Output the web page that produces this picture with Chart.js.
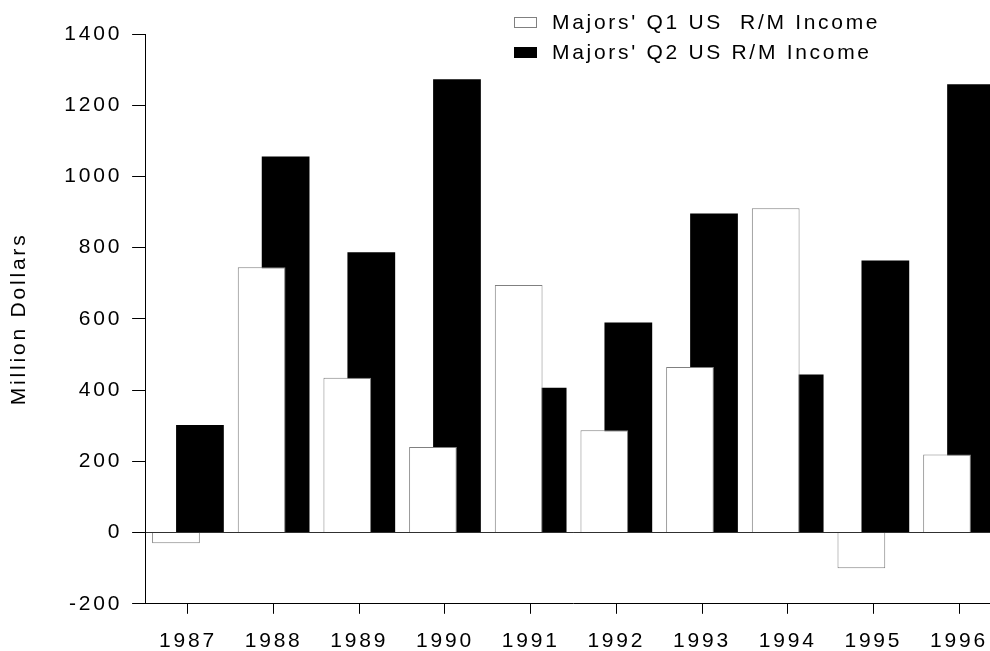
<!DOCTYPE html>
<html>
<head>
<meta charset="utf-8">
<script src="https://cdn.jsdelivr.net/npm/chart.js@4.4.0/dist/chart.umd.min.js"></script>
<style>
    html, body {
        margin: 0;
        padding: 0;
        background: #fff;
        overflow: hidden;
    }
    #wrap {
        position: absolute;
        left: 0;
        top: 0;
        width: 1003px;
        height: 651px;
    }
    #legend {
        position: absolute;
        left: 514px;
        top: 7px;
        font-family: "Liberation Sans", Arial, sans-serif;
        font-size: 21px;
        letter-spacing: 2.7px;
        color: #000;
    }
    .row {
        display: flex;
        align-items: center;
        height: 30px;
        white-space: pre;
    }
    .swatch {
        width: 23px;
        height: 11px;
        box-sizing: border-box;
        margin-right: 15px;
    }
</style>
</head>
<body>
<div id="wrap"><canvas id="incomeChart"></canvas></div>
<div id="legend"></div>
<script>
const years = ['1987', '1988', '1989', '1990', '1991', '1992', '1993', '1994', '1995', '1996'];
const q1Income = [-30, 745, 435, 240, 695, 287, 465, 911, -100, 219];
const q2Income = [302, 1056, 787, 1273, 407, 590, 896, 444, 764, 1259];
const seriesLabels = ["Majors' Q1 US  R/M Income", "Majors' Q2 US R/M Income"];
const yTicks = [-200, 0, 200, 400, 600, 800, 1000, 1200, 1400];

const fontFamily = '"Liberation Sans", Arial, sans-serif';
const spacing = '2.8px';

// canvas text in the original is letter spaced
const letterSpacing = {
    id: 'letterSpacing',
    beforeUpdate(chart) { chart.ctx.letterSpacing = spacing; },
    beforeDraw(chart) { chart.ctx.letterSpacing = spacing; }
};

// legend sits above the plot, overlapping the chart area's top band
const legendEl = document.getElementById('legend');
const swatchStyles = [
    'background:#fff;border:1px solid #808080;',
    'background:#000;'
];
seriesLabels.forEach((label, i) => {
    const row = document.createElement('div');
    row.className = 'row';
    const sw = document.createElement('span');
    sw.className = 'swatch';
    sw.style.cssText = swatchStyles[i];
    const txt = document.createElement('span');
    txt.textContent = label;
    row.appendChild(sw);
    row.appendChild(txt);
    legendEl.appendChild(row);
});

new Chart(
    document.getElementById('incomeChart'),
    {
        type: 'bar',
        data: {
            labels: years,
            datasets: [{
                label: seriesLabels[0],
                data: q1Income,
                backgroundColor: '#ffffff',
                borderColor: '#808080',
                borderWidth: 1
            },
            {
                label: seriesLabels[1],
                data: q2Income,
                backgroundColor: '#000000',
                borderWidth: 0
            }]
        },
        options: {
            responsive: true,
            maintainAspectRatio: false,
            animation: false,
            categoryPercentage: 0.56,
            barPercentage: 1.99,
            layout: {
                padding: { top: 34, left: 0, right: 0, bottom: -18 }
            },
            plugins: {
                legend: { display: false },
                tooltip: { enabled: false }
            },
            scales: {
                x: {
                    grid: {
                        drawOnChartArea: false,
                        offset: false,
                        tickLength: 10,
                        tickColor: '#000'
                    },
                    border: { color: '#000', width: 1 },
                    ticks: {
                        color: '#000',
                        font: { family: fontFamily, size: 21 },
                        maxRotation: 0,
                        padding: 15
                    }
                },
                y: {
                    min: yTicks[0],
                    max: yTicks[yTicks.length - 1],
                    afterBuildTicks(axis) {
                        axis.ticks = yTicks.map(v => ({ value: v }));
                    },
                    grid: {
                        color: (ctx) => ctx.tick && ctx.tick.value === 0 ? '#303030' : 'rgba(0,0,0,0)',
                        tickColor: '#000',
                        tickLength: 13
                    },
                    border: { color: '#000', width: 1 },
                    ticks: {
                        color: '#000',
                        font: { family: fontFamily, size: 21 },
                        padding: 10,
                        callback: (value) => String(value)
                    },
                    title: {
                        display: true,
                        text: 'Million Dollars',
                        color: '#000',
                        font: { family: fontFamily, size: 21 },
                        padding: { top: 7, bottom: 22 }
                    }
                }
            }
        },
        plugins: [letterSpacing]
    }
);
</script>
</body>
</html>
